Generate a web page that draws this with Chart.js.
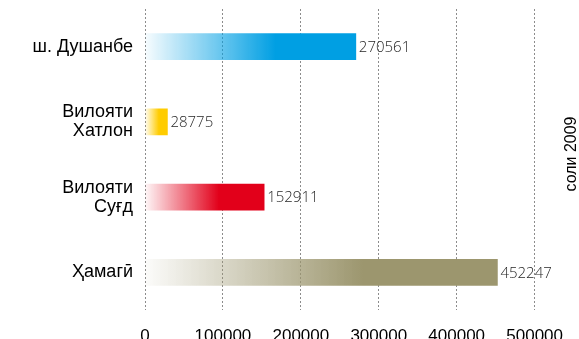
<!DOCTYPE html>
<html>
<head>
<meta charset="utf-8">
<script src="https://cdn.jsdelivr.net/npm/chart.js@4/dist/chart.umd.min.js"></script>
<style>
  html, body { margin: 0; padding: 0; background: #ffffff; }
  #wrap { width: 579px; height: 339px; position: relative; }
</style>
</head>
<body>
<div id="wrap"><canvas id="c"></canvas></div>
<script>
// Population by region, 2009
const categories = ['ш. Душанбе', ['Вилояти', 'Хатлон'], ['Вилояти', 'Суғд'], 'Ҳамагӣ'];
const population = [270561, 28775, 152911, 452247];
const barColors = ['#009FE3', '#FFCC00', '#E2001A', '#9C966E'];
const xTicks = [0, 100000, 200000, 300000, 400000, 500000];
const sideTitle = 'соли 2009';

function withAlpha(hex, a) {
  const n = parseInt(hex.slice(1), 16);
  return `rgba(${(n >> 16) & 255},${(n >> 8) & 255},${n & 255},${a})`;
}

// Each bar fades in from white to its solid colour
function barFill(ctx) {
  const chart = ctx.chart;
  const base = barColors[ctx.dataIndex];
  if (!chart.chartArea || !chart.scales.x) return base;
  const xs = chart.scales.x;
  const x0 = xs.getPixelForValue(0);
  const x1 = xs.getPixelForValue(population[ctx.dataIndex]);
  const g = chart.ctx.createLinearGradient(x0, 0, x1, 0);
  g.addColorStop(0, withAlpha(base, 0.03));
  g.addColorStop(0.62, base);
  g.addColorStop(1, base);
  return g;
}

// Value written just past the end of each bar
const valueLabels = {
  id: 'valueLabels',
  afterDatasetsDraw(chart) {
    const ctx = chart.ctx;
    const meta = chart.getDatasetMeta(0);
    ctx.save();
    ctx.font = '300 15px "Open Sans", "DejaVu Sans", sans-serif';
    ctx.fillStyle = '#262626';
    ctx.textAlign = 'left';
    ctx.textBaseline = 'middle';
    meta.data.forEach((bar, i) => {
      ctx.fillText(String(population[i]), bar.x + 3, bar.y + 1);
    });
    ctx.restore();
  }
};

// Vertical year caption on the right edge
const yearCaption = {
  id: 'yearCaption',
  afterDraw(chart) {
    const ctx = chart.ctx;
    ctx.save();
    ctx.translate(chart.width - 7, 154);
    ctx.rotate(-Math.PI / 2);
    ctx.font = '16px "Liberation Sans", Arial, sans-serif';
    ctx.fillStyle = '#000000';
    ctx.textAlign = 'center';
    ctx.textBaseline = 'middle';
    ctx.fillText(sideTitle, 0, 0);
    ctx.restore();
  }
};

new Chart(document.getElementById('c'), {
  type: 'bar',
  data: {
    labels: categories,
    datasets: [{
      data: population,
      backgroundColor: barFill,
      borderWidth: 0,
      barThickness: 26
    }]
  },
  options: {
    indexAxis: 'y',
    responsive: true,
    maintainAspectRatio: false,
    animation: false,
    layout: { padding: { top: 9, right: 40, bottom: 0, left: 0 } },
    plugins: {
      legend: { display: false },
      tooltip: { enabled: false }
    },
    scales: {
      x: {
        min: 0,
        max: 500000,
        afterBuildTicks(scale) { scale.ticks = xTicks.map(v => ({ value: v })); },
        afterFit(scale) { scale.height = 29; },
        ticks: {
          callback: v => String(v),
          color: '#000000',
          font: { family: '"Liberation Sans", Arial, sans-serif', size: 17 },
          padding: 16,
          maxRotation: 0,
          autoSkip: false
        },
        grid: {
          display: true,
          drawTicks: false,
          color: '#8c8c8c',
          lineWidth: 1
        },
        border: { display: false, dash: [2, 2] }
      },
      y: {
        afterFit(scale) {
          scale.width = 145;
          scale.paddingTop = 0;
          scale.paddingBottom = 0;
        },
        ticks: {
          color: '#000000',
          font: { family: '"Liberation Sans", Arial, sans-serif', size: 18, lineHeight: 1.05 },
          padding: 12
        },
        grid: { display: false, drawTicks: false },
        border: { display: false }
      }
    }
  },
  plugins: [valueLabels, yearCaption]
});
</script>
</body>
</html>
